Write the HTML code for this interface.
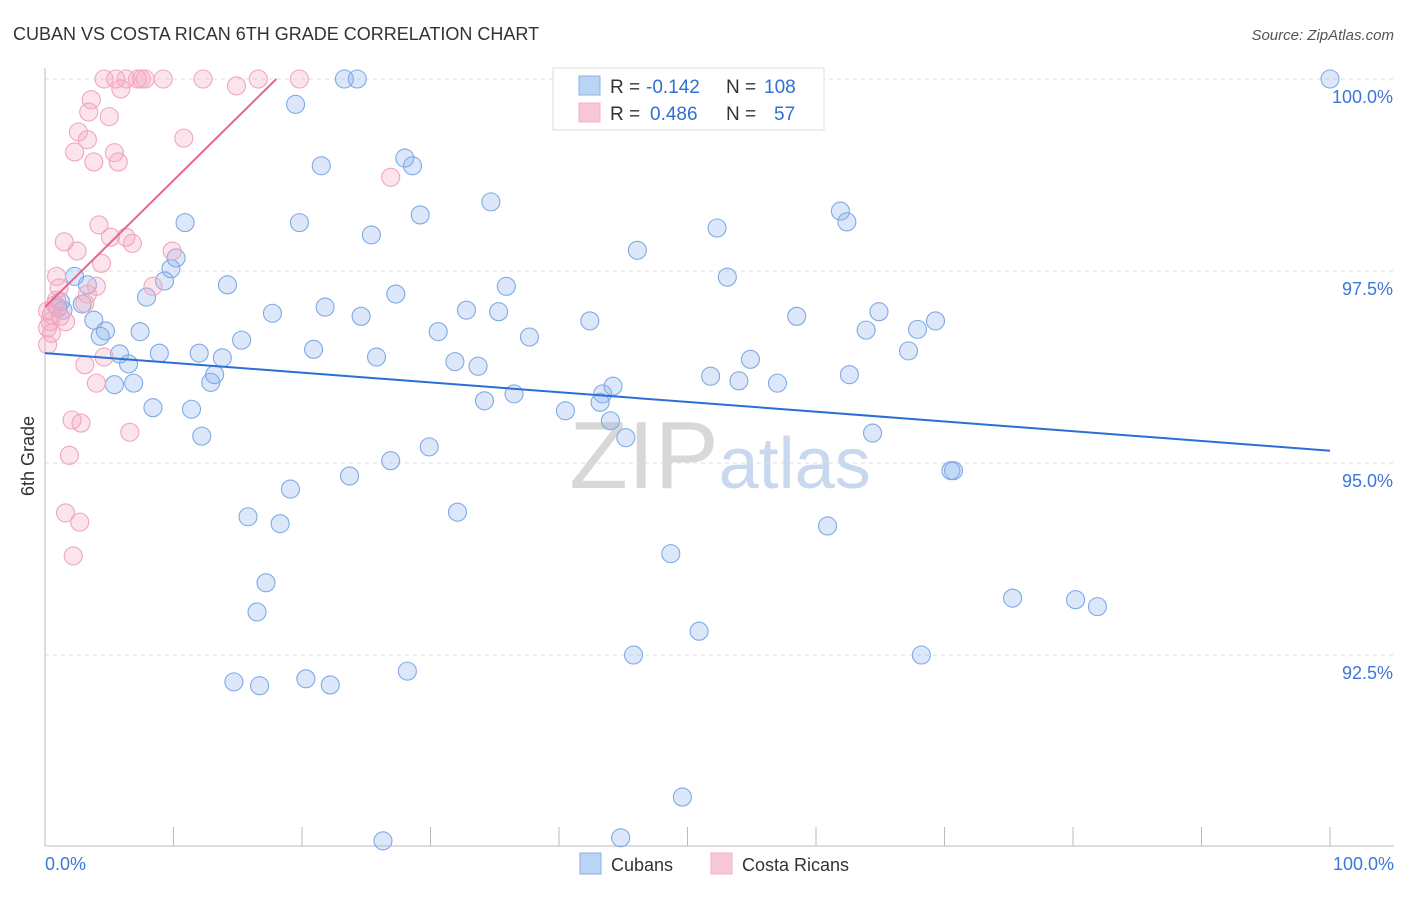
<!DOCTYPE html>
<html><head><meta charset="utf-8"><style>
body{margin:0;background:#fff;font-family:"Liberation Sans",sans-serif}
svg text{font-family:"Liberation Sans",sans-serif}
</style></head><body>
<svg id="chart" width="1406" height="892" xmlns="http://www.w3.org/2000/svg">
<text x="13" y="40" font-size="18" fill="#333">CUBAN VS COSTA RICAN 6TH GRADE CORRELATION CHART</text>
<text x="1394" y="40" font-size="15" fill="#555" text-anchor="end" font-style="italic">Source: ZipAtlas.com</text>
<text x="720" y="488" font-size="96" text-anchor="middle" fill="#ddd" font-family="Liberation Serif"><tspan fill="#d8d8d8">ZIP</tspan><tspan fill="#c8d8ee" font-family="Liberation Sans" font-size="72">atlas</tspan></text>
<g id="grid"></g>
<g id="axes"></g>
<g id="pts"></g>
<g id="lines"></g>
<text transform="translate(34,456) rotate(-90)" font-size="18" fill="#333" text-anchor="middle">6th Grade</text>
<g>
<rect x="553" y="68" width="271" height="62" fill="#fff" stroke="#ddd"/>
<rect x="579" y="76" width="21" height="19" fill="#bcd4f4" stroke="#8ab0e8"/>
<rect x="579" y="103" width="21" height="19" fill="#f8c8d8" stroke="#f0b0c4"/>
<text x="610" y="93" font-size="19" fill="#333">R =</text>
<text x="646" y="93" font-size="19" fill="#2f6fd6">-0.142</text>
<text x="726" y="93" font-size="19" fill="#333">N =</text>
<text x="764" y="93" font-size="19" fill="#2f6fd6">108</text>
<text x="610" y="120" font-size="19" fill="#333">R =</text>
<text x="650" y="120" font-size="19" fill="#2f6fd6">0.486</text>
<text x="726" y="120" font-size="19" fill="#333">N =</text>
<text x="774" y="120" font-size="19" fill="#2f6fd6">57</text>
</g>
<g>
<rect x="580" y="853" width="21" height="21" fill="#bcd4f4" stroke="#8ab0e8"/>
<text x="611" y="871" font-size="18" fill="#333">Cubans</text>
<rect x="711" y="853" width="21" height="21" fill="#f8c8d8" stroke="#f0b0c4"/>
<text x="742" y="871" font-size="18" fill="#333">Costa Ricans</text>
</g>
</svg>
<script>
const yTicks=[100,97.5,95,92.5];
const yTickLabels=["100.0%","97.5%","95.0%","92.5%"];
const xLabels=["0.0%","100.0%"];
const cubanX=[100,23.3,24.3,19.5,21.5,28.0,28.6,34.7,29.2,10.9,19.8,25.4,46.1,52.3,61.9,62.4,10.2,9.8,9.3,2.3,3.3,7.9,14.2,27.3,35.9,53.1,1.2,1.4,2.9,1.0,3.8,4.7,4.3,7.4,17.7,21.8,24.6,32.8,35.3,37.7,42.4,58.5,64.9,63.9,67.9,69.3,5.8,6.5,8.9,12.0,13.8,20.9,25.8,30.6,31.9,33.7,15.3,5.4,6.9,12.9,13.2,54.9,51.8,54.0,57.0,62.6,67.2,43.4,44.2,43.2,36.5,34.2,40.5,8.4,11.4,44.0,45.2,12.2,64.4,29.9,26.9,23.7,70.7,70.5,19.1,32.1,15.8,18.3,60.9,48.7,17.2,16.5,75.3,80.2,81.9,50.9,45.8,68.2,28.2,14.7,16.7,20.3,22.2,49.6,26.3,44.8];
const cubanY=[100,100,100,99.67,98.87,98.97,98.87,98.40,98.23,98.13,98.13,97.97,97.77,98.06,98.28,98.14,97.67,97.53,97.37,97.43,97.32,97.16,97.32,97.20,97.30,97.42,97.10,96.99,97.07,97.02,96.86,96.72,96.65,96.71,96.95,97.03,96.91,96.99,96.97,96.64,96.85,96.91,96.97,96.73,96.74,96.85,96.42,96.29,96.43,96.43,96.37,96.48,96.38,96.71,96.32,96.26,96.60,96.02,96.04,96.05,96.15,96.35,96.13,96.07,96.04,96.15,96.46,95.90,96.00,95.79,95.90,95.81,95.68,95.72,95.70,95.55,95.33,95.35,95.39,95.21,95.03,94.83,94.90,94.90,94.66,94.36,94.30,94.21,94.18,93.82,93.44,93.06,93.24,93.22,93.13,92.81,92.50,92.50,92.29,92.15,92.10,92.19,92.11,90.65,90.08,90.12];
const costaX=[4.6,5.5,6.3,7.2,7.5,7.8,9.2,12.3,16.6,19.8,14.9,5.9,3.6,3.4,5.0,2.6,3.3,10.8,2.3,5.4,3.8,5.7,26.9,4.2,5.1,6.3,6.8,1.5,2.5,9.9,4.4,0.9,1.1,4.0,8.4,3.3,3.1,0.9,0.2,0.5,0.4,1.6,0.5,0.2,3.1,4.6,4.0,2.1,2.8,6.6,1.9,1.6,2.7,2.2,0.2,0.8,1.2];
const costaY=[100,100,100,100,100,100,100,100,100,100,99.91,99.87,99.73,99.57,99.51,99.31,99.21,99.23,99.05,99.04,98.92,98.92,98.72,98.10,97.94,97.94,97.86,97.88,97.76,97.76,97.60,97.43,97.28,97.30,97.30,97.20,97.08,97.12,96.98,96.93,96.84,96.84,96.69,96.54,96.28,96.38,96.04,95.56,95.52,95.40,95.10,94.35,94.23,93.79,96.76,97.06,96.91];
const cubanTrend=[96.43,95.16];
const costaTrend=[97.03,100];const costaTrendEndX=18;
const NS="http://www.w3.org/2000/svg";
const X=v=>45+v*12.85, Y=v=>79+(100-v)*76.8;
function mk(tag,attrs,parent){const e=document.createElementNS(NS,tag);for(const k in attrs)e.setAttribute(k,attrs[k]);parent.appendChild(e);return e;}
const grid=document.getElementById('grid'),axes=document.getElementById('axes');
yTicks.forEach((t,i)=>{
 const l=mk('line',{x1:45,x2:1394,y1:Y(t),y2:Y(t),stroke:'#ddd','stroke-dasharray':'4,4'},grid);
 
 
 const tx=mk('text',{x:1393,y:Y(t)+24,'font-size':18,fill:'#3b78d8','text-anchor':'end'},axes);
 tx.textContent=yTickLabels[i];
 
 
});
const ax=mk('line',{x1:45,x2:45,y1:68,y2:846,stroke:'#bbb'},axes);


const bx=mk('line',{x1:45,x2:1394,y1:846,y2:846,stroke:'#bbb'},axes);


for(let i=0;i<=10;i++){const t=mk('line',{x1:X(i*10),x2:X(i*10),y1:827,y2:846,stroke:'#bbb'},axes);
 
 }
[[0,'start',45],[1,'end',1394]].forEach(([i,a,x])=>{const t=mk('text',{x:x,y:870,'font-size':18,fill:'#3b78d8','text-anchor':a},axes);t.textContent=xLabels[i];
 
 });
const pts=document.getElementById('pts');
cubanX.forEach((x,i)=>{const c=mk('circle',{cx:X(x),cy:Y(cubanY[i]),r:9,fill:'rgba(140,180,238,0.3)',stroke:'#7fa9e6','stroke-width':1.1},pts);
 
 });
costaX.forEach((x,i)=>{const c=mk('circle',{cx:X(x),cy:Y(costaY[i]),r:9,fill:'rgba(245,165,192,0.3)',stroke:'#f0a6bf','stroke-width':1.1},pts);
 
 });
const lines=document.getElementById('lines');
const l1=mk('line',{x1:X(0),y1:Y(cubanTrend[0]),x2:X(100),y2:Y(cubanTrend[1]),stroke:'#2b6fd6','stroke-width':2},lines);


const l2=mk('line',{x1:X(0),y1:Y(costaTrend[0]),x2:X(costaTrendEndX),y2:Y(costaTrend[1]),stroke:'#e8648f','stroke-width':2},lines);


</script>
</body></html>
